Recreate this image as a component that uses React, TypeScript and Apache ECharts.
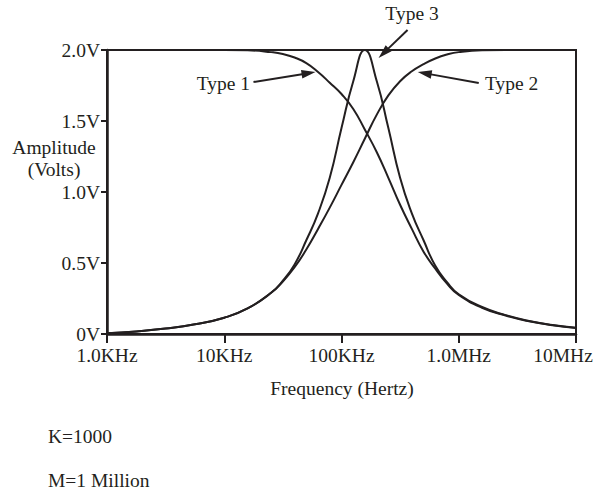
import React, { useEffect, useRef } from 'react';
import * as echarts from 'echarts';

// Frequency in Hz (log axis)
const frequencies = [
  1000, 1780, 3160, 5620, 10000, 15800, 25100, 31600, 39800, 50100, 63100, 79400,
  100000, 126000, 158000, 200000, 251000, 316000, 398000, 501000, 631000, 794000,
  1000000, 1580000, 2510000, 3980000, 6310000, 10000000,
];

// Amplitude in volts
const type1 = [
  2.0, 2.0, 2.0, 2.0, 2.0, 1.998, 1.985, 1.972, 1.947, 1.908, 1.845, 1.77,
  1.69, 1.585, 1.44, 1.28, 1.1, 0.91, 0.74, 0.58, 0.46, 0.355,
  0.275, 0.185, 0.13, 0.09, 0.062, 0.042,
];
const type2 = [
  0.005, 0.018, 0.038, 0.068, 0.115, 0.18, 0.29, 0.37, 0.47, 0.595, 0.74, 0.89,
  1.05, 1.21, 1.375, 1.545, 1.68, 1.78, 1.85, 1.9, 1.94, 1.968,
  1.985, 1.998, 2.0, 2.0, 2.0, 2.0,
];
const type3 = [
  0.005, 0.018, 0.038, 0.068, 0.115, 0.18, 0.29, 0.375, 0.49, 0.66, 0.85, 1.1,
  1.45, 1.78, 2.0, 1.78, 1.45, 1.1, 0.85, 0.66, 0.48, 0.365,
  0.28, 0.19, 0.133, 0.092, 0.064, 0.044,
];

const seriesNames = ['Type 1', 'Type 2', 'Type 3'];
const yTickValues = [0, 0.5, 1.0, 1.5, 2.0];
const yTickLabels = ['0V', '0.5V', '1.0V', '1.5V', '2.0V'];
const xTickValues = [1000, 10000, 100000, 1000000, 10000000];
const xTickLabels = ['1.0KHz', '10KHz', '100KHz', '1.0MHz', '10MHz'];
const xAxisTitle = 'Frequency (Hertz)';
const yAxisTitle = ['Amplitude', '(Volts)'];
const notes = ['K=1000', 'M=1 Million'];
// arrow tip locations in data space (frequency, volts)
const arrowTipFreq = [60000, 447000, 207000];
const arrowTipVolts = [1.845, 1.845, 1.944];

const INK = '#231f20';
const FONT = "'Liberation Serif', 'Times New Roman', serif";
const FS = 19.5;

export default function App() {
  const ref = useRef<HTMLDivElement>(null);

  useEffect(() => {
    if (!ref.current) return;
    const chart = echarts.init(ref.current, undefined, { renderer: 'svg' });

    const mk = (vals: number[]) => frequencies.map((f, i) => [f, vals[i]]);
    const labelFont = { color: INK, fontFamily: FONT, fontSize: FS };

    chart.setOption({
      animation: false,
      backgroundColor: '#ffffff',
      grid: {
        left: 107,
        right: 23,
        top: 50,
        bottom: 155,
        containLabel: false,
        outerBoundsMode: 'none',
        show: true,
        borderColor: INK,
        borderWidth: 2,
        backgroundColor: 'transparent',
      },
      xAxis: {
        type: 'log',
        logBase: 10,
        min: 1000,
        max: 10000000,
        axisLine: { show: true, lineStyle: { color: INK, width: 2.5 } },
        axisTick: { show: true, inside: false, length: 9, lineStyle: { color: INK, width: 2 } },
        splitLine: { show: false },
        minorTick: { show: false },
        axisLabel: {
          margin: 11,
          ...labelFont,
          hideOverlap: false,
          formatter: (v: number) => {
            const idx = xTickValues.findIndex((t) => Math.abs(Math.log10(t) - Math.log10(v)) < 1e-6);
            if (idx < 0) return '';
            return idx === xTickValues.length - 1 ? `{last|${xTickLabels[idx]}}` : xTickLabels[idx];
          },
          rich: {
            last: { ...labelFont, padding: [0, 26, 0, 0] },
          },
        },
      },
      yAxis: {
        type: 'value',
        min: 0,
        max: 2,
        interval: 0.5,
        axisLine: { show: true, lineStyle: { color: INK, width: 2.5 } },
        axisTick: { show: true, inside: false, length: 6, lineStyle: { color: INK, width: 2 } },
        splitLine: { show: false },
        axisLabel: {
          margin: 7,
          ...labelFont,
          formatter: (v: number) => {
            const idx = yTickValues.findIndex((t) => Math.abs(t - v) < 1e-6);
            return idx >= 0 ? yTickLabels[idx] : '';
          },
        },
      },
      series: [type1, type2, type3].map((vals, i) => ({
        name: seriesNames[i],
        type: 'line',
        data: mk(vals),
        smooth: 0.5,
        showSymbol: false,
        symbol: 'none',
        clip: true,
        lineStyle: { color: INK, width: 2 },
        z: 3,
      })),
    });

    const tips = arrowTipFreq.map((f, i) =>
      chart.convertToPixel({ gridIndex: 0 }, [f, arrowTipVolts[i]]) as number[]
    );
    // tail offsets (pixels) from each tip
    const tailOffsets = [
      [-62, 10],
      [61, 11],
      [29, -28],
    ];

    const arrow = (tip: number[], off: number[]) => {
      const tail = [tip[0] + off[0], tip[1] + off[1]];
      const dx = tip[0] - tail[0];
      const dy = tip[1] - tail[1];
      const len = Math.sqrt(dx * dx + dy * dy);
      const ux = dx / len;
      const uy = dy / len;
      const headLen = 14;
      const halfW = 4.2;
      const bx = tip[0] - ux * headLen;
      const by = tip[1] - uy * headLen;
      const px = -uy;
      const py = ux;
      return [
        {
          type: 'line',
          shape: { x1: tail[0], y1: tail[1], x2: bx + ux * 2, y2: by + uy * 2 },
          style: { stroke: INK, lineWidth: 2 },
          z: 10,
        },
        {
          type: 'polygon',
          shape: {
            points: [
              [tip[0], tip[1]],
              [bx + px * halfW, by + py * halfW],
              [bx - px * halfW, by - py * halfW],
            ],
          },
          style: { fill: INK },
          z: 10,
        },
      ];
    };

    const textStyle = (text: string, align: string) => ({
      text,
      fill: INK,
      font: `${FS}px ${FONT}`,
      align,
      verticalAlign: 'middle',
    });

    chart.setOption({
      graphic: [
        ...arrow(tips[0], tailOffsets[0]),
        ...arrow(tips[1], tailOffsets[1]),
        ...arrow(tips[2], tailOffsets[2]),
        { type: 'text', x: 250, y: 83, style: textStyle(seriesNames[0], 'right'), z: 10 },
        { type: 'text', x: 485, y: 83, style: textStyle(seriesNames[1], 'left'), z: 10 },
        { type: 'text', x: 412, y: 13, style: textStyle(seriesNames[2], 'center'), z: 10 },
        { type: 'text', x: 54, y: 147, style: textStyle(yAxisTitle[0], 'center'), z: 10 },
        { type: 'text', x: 54, y: 169, style: textStyle(yAxisTitle[1], 'center'), z: 10 },
        { type: 'text', x: 342, y: 388, style: textStyle(xAxisTitle, 'center'), z: 10 },
        { type: 'text', x: 48, y: 436, style: textStyle(notes[0], 'left'), z: 10 },
        { type: 'text', x: 48, y: 480, style: textStyle(notes[1], 'left'), z: 10 },
      ],
    });

    return () => chart.dispose();
  }, []);

  return (
    <div
      ref={ref}
      style={{ position: 'fixed', left: 0, top: 0, width: 599, height: 489, background: '#fff' }}
    />
  );
}
